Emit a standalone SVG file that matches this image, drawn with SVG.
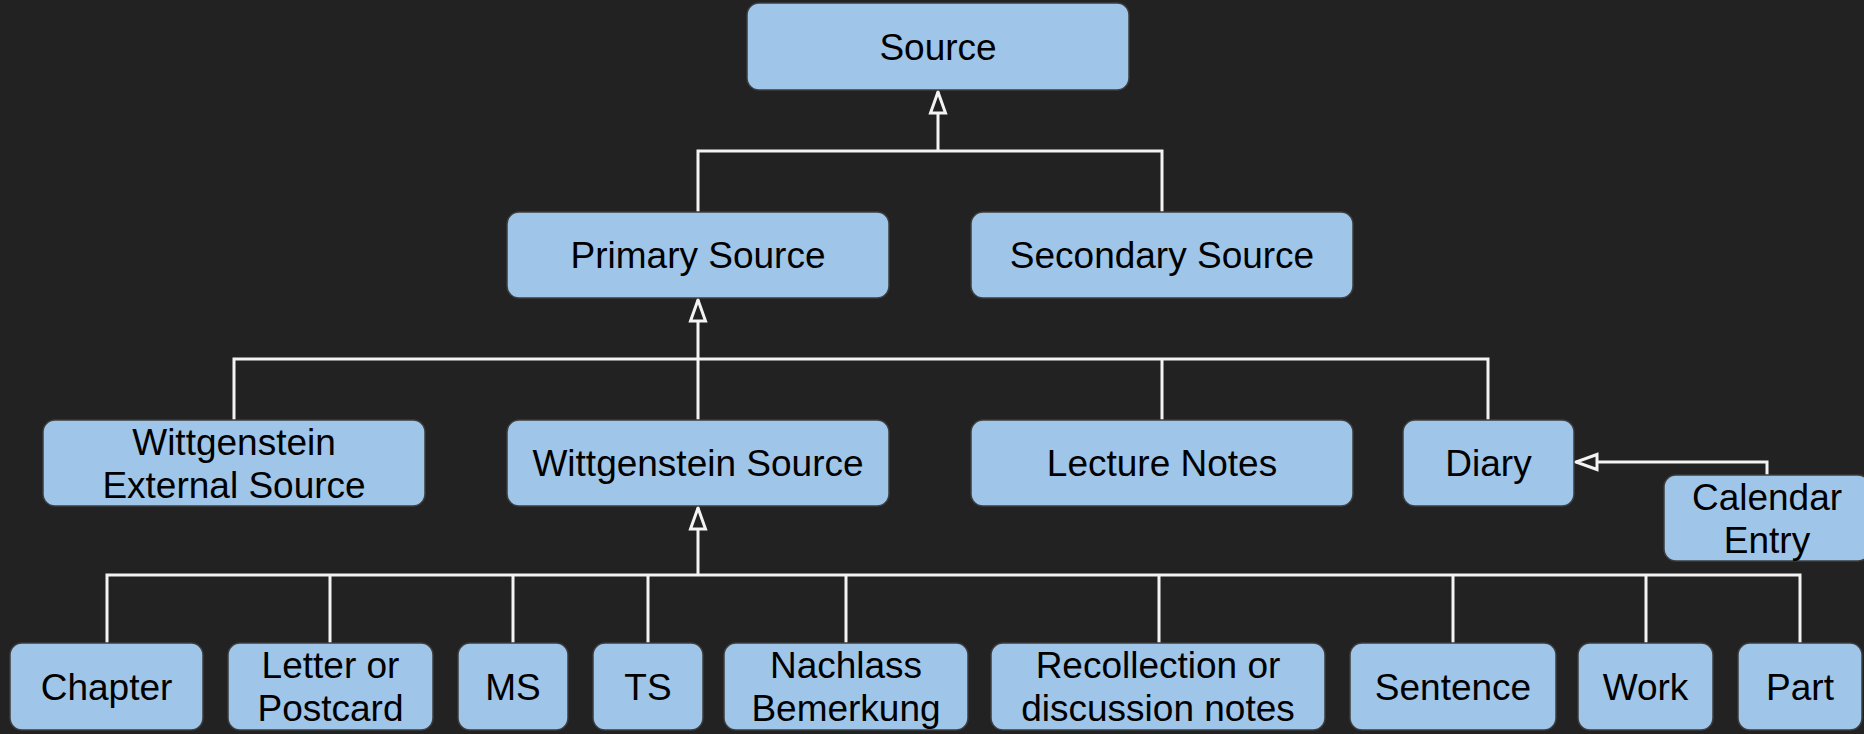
<svg xmlns="http://www.w3.org/2000/svg" width="1864" height="734" viewBox="0 0 1864 734">
<style>
.box{fill:#9fc5e8;stroke:#3d3d3d;stroke-width:1.5}
.lbl{font-family:"Liberation Sans",Arial,sans-serif;font-size:37px;fill:#000;text-anchor:middle}
.ln{fill:none;stroke:#f3f3f3;stroke-width:3}
</style>
<defs>
<marker id="tri" markerUnits="userSpaceOnUse" markerWidth="30" markerHeight="24" viewBox="0 0 30 24" refX="25" refY="12" orient="auto">
<path d="M4 4.5 L25 12 L4 19.5 Z" fill="#222222" stroke="#f3f3f3" stroke-width="3" stroke-linejoin="miter"/>
</marker>
</defs>
<rect width="1864" height="734" fill="#222222"/>
<g id="connectors">
<path class="ln" d="M698 212 V151 H1162 V212"/>
<path class="ln" d="M938 151 V92" marker-end="url(#tri)"/>
<path class="ln" d="M234 420 V359 H1488 V420 M1162 359 V420"/>
<path class="ln" d="M698 420 V300" marker-end="url(#tri)"/>
<path class="ln" d="M107 643 V575 H1800 V643 M330 575 V643 M513 575 V643 M648 575 V643 M846 575 V643 M1159 575 V643 M1453 575 V643 M1646 575 V643"/>
<path class="ln" d="M698 575 V508" marker-end="url(#tri)"/>
<path class="ln" d="M1767 475 V462 H1576" marker-end="url(#tri)"/>
</g>
<g id="source"><rect class="box" x="747" y="3" width="382" height="87" rx="12"/><text class="lbl" x="938" y="59.5">Source</text></g>
<g id="primary-source"><rect class="box" x="507" y="212" width="382" height="86" rx="12"/><text class="lbl" x="698" y="268">Primary Source</text></g>
<g id="secondary-source"><rect class="box" x="971" y="212" width="382" height="86" rx="12"/><text class="lbl" x="1162" y="268">Secondary Source</text></g>
<g id="wittgenstein-external-source"><rect class="box" x="43" y="420" width="382" height="86" rx="12"/><text class="lbl" x="234" y="454.5">Wittgenstein</text><text class="lbl" x="234" y="497.5">External Source</text></g>
<g id="wittgenstein-source"><rect class="box" x="507" y="420" width="382" height="86" rx="12"/><text class="lbl" x="698" y="476">Wittgenstein Source</text></g>
<g id="lecture-notes"><rect class="box" x="971" y="420" width="382" height="86" rx="12"/><text class="lbl" x="1162" y="476">Lecture Notes</text></g>
<g id="diary"><rect class="box" x="1403" y="420" width="171" height="86" rx="12"/><text class="lbl" x="1488.5" y="476">Diary</text></g>
<g id="calendar-entry"><rect class="box" x="1664" y="475" width="206" height="86" rx="12"/><text class="lbl" x="1767" y="509.5">Calendar</text><text class="lbl" x="1767" y="552.5">Entry</text></g>
<g id="chapter"><rect class="box" x="10" y="643" width="193" height="87" rx="12"/><text class="lbl" x="106.5" y="699.5">Chapter</text></g>
<g id="letter-or-postcard"><rect class="box" x="228" y="643" width="205" height="87" rx="12"/><text class="lbl" x="330.5" y="678">Letter or</text><text class="lbl" x="330.5" y="721">Postcard</text></g>
<g id="ms"><rect class="box" x="458" y="643" width="110" height="87" rx="12"/><text class="lbl" x="513" y="699.5">MS</text></g>
<g id="ts"><rect class="box" x="593" y="643" width="110" height="87" rx="12"/><text class="lbl" x="648" y="699.5">TS</text></g>
<g id="nachlass-bemerkung"><rect class="box" x="724" y="643" width="244" height="87" rx="12"/><text class="lbl" x="846" y="678">Nachlass</text><text class="lbl" x="846" y="721">Bemerkung</text></g>
<g id="recollection"><rect class="box" x="991" y="643" width="334" height="87" rx="12"/><text class="lbl" x="1158" y="678">Recollection or</text><text class="lbl" x="1158" y="721">discussion notes</text></g>
<g id="sentence"><rect class="box" x="1350" y="643" width="206" height="87" rx="12"/><text class="lbl" x="1453" y="699.5">Sentence</text></g>
<g id="work"><rect class="box" x="1578" y="643" width="135" height="87" rx="12"/><text class="lbl" x="1645.5" y="699.5">Work</text></g>
<g id="part"><rect class="box" x="1738" y="643" width="124" height="87" rx="12"/><text class="lbl" x="1800" y="699.5">Part</text></g>
</svg>
